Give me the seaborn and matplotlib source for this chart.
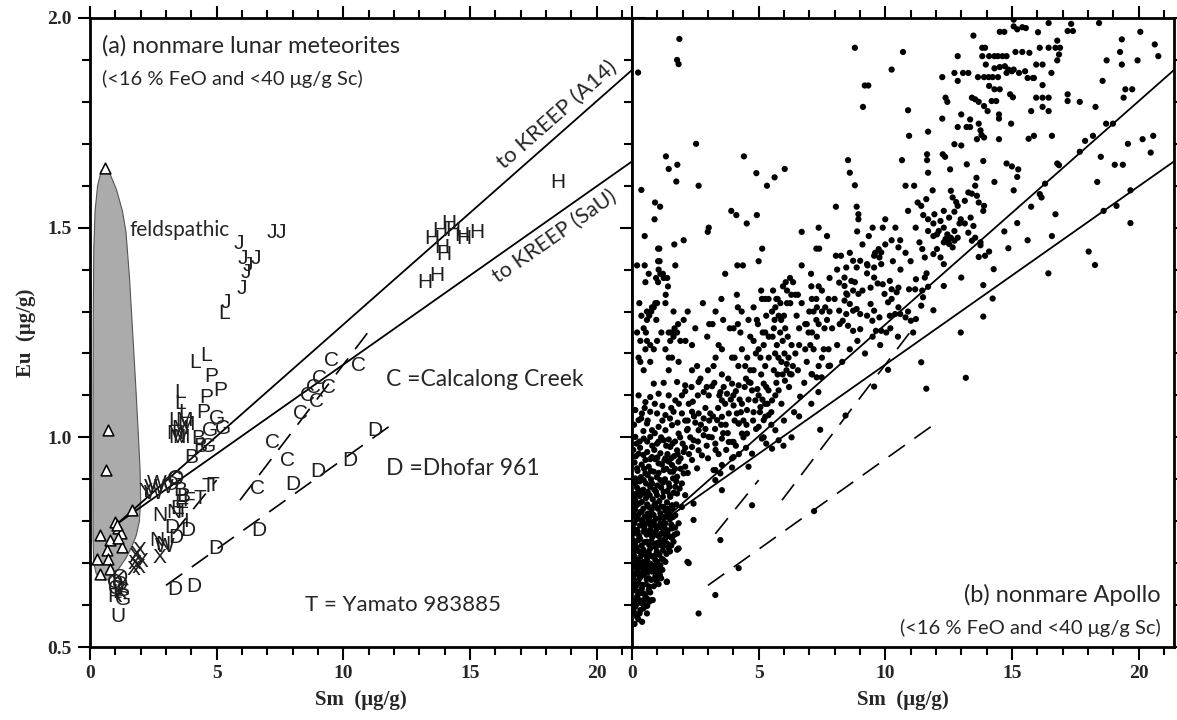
import numpy as np
import pandas as pd
import matplotlib
matplotlib.use("Agg")
import matplotlib.pyplot as plt
import seaborn as sns
from matplotlib.patches import Polygon

sns.set_style("ticks")
plt.rcParams["font.family"] = ["Lato", "DejaVu Sans"]

# ---------------- panel (a): lunar meteorites ----------------
# feldspathic meteorites (open triangles)
feld_sm = [0.59, 0.72, 0.63, 1.65, 0.39, 0.79, 0.99, 1.12, 1.22, 1.25, 0.66,
           0.26, 0.72, 0.39, 0.79, 1.12, 1.05]
feld_eu = [1.643, 1.018, 0.921, 0.826, 0.767, 0.755, 0.798, 0.783, 0.771, 0.739,
           0.731, 0.709, 0.711, 0.675, 0.685, 0.760, 0.790]

# outline of the feldspathic field
field_sm = [0.59, 0.78, 1.05, 1.28, 1.42, 1.56, 1.68, 1.80, 1.90, 1.98, 2.00, 1.95,
            1.82, 1.62, 1.42, 1.15, 0.92, 0.72, 0.55, 0.38, 0.24, 0.15, 0.12, 0.12,
            0.12, 0.13, 0.15, 0.20, 0.30, 0.44]
field_eu = [1.644, 1.630, 1.590, 1.540, 1.490, 1.380, 1.255, 1.130, 1.017, 0.920,
            0.850, 0.800, 0.765, 0.735, 0.712, 0.688, 0.670, 0.660, 0.660, 0.664,
            0.676, 0.700, 0.760, 0.900, 1.100, 1.300, 1.450, 1.540, 1.600, 1.635]

# other meteorites, plotted with their letter codes
met_code = list("JJJJJJJJJL") + list("LLLLLL") + list("PPPP") + list("GGGGG") + \
    list("MMMMMM") + list("BBBBB") + list("WWWW") + list("EEFTTTTI") + \
    list("NNNN") + list("XXXXXXXX") + list("DDDDDDDDDDD") + list("CCCCCCCCCCC") + \
    list("URG") + list("KOQSKOQ") + list("HHHHHHHHHHHH") + list("OOVY")
met_sm = [5.88, 6.04, 6.24, 6.55, 6.16, 6.00, 5.37, 7.20, 7.55, 5.29,
          4.15, 4.60, 3.55, 3.55, 3.30, 3.70,
          4.80, 4.60, 5.13, 4.47,
          5.00, 5.26, 4.74, 4.67, 3.35,
          3.35, 3.55, 3.70, 3.45, 3.80, 3.60,
          4.28, 4.34, 4.01, 3.55, 3.70,
          2.63, 2.50, 2.96, 2.90,
          3.60, 3.45, 3.88, 4.34, 4.67, 4.87, 3.62, 3.80,
          2.76, 2.63, 2.89, 3.30,
          2.76, 1.97, 1.75, 1.85, 1.90, 1.70, 2.05, 1.80,
          3.88, 3.22, 3.36, 4.08, 4.97, 6.67, 8.01, 9.00, 10.26, 11.25, 3.40,
          6.63, 7.19, 7.78, 8.33, 8.57, 8.82, 9.08, 9.41, 9.54, 10.59, 8.95,
          1.12, 0.99, 1.31,
          1.10, 1.20, 1.05, 1.25, 1.15, 1.20, 1.00,
          18.49, 13.49, 13.82, 14.15, 14.34, 14.67, 15.26, 13.88, 13.95, 13.23,
          13.69, 14.74,
          3.42, 3.22, 2.40, 2.20]
met_eu = [1.462, 1.426, 1.410, 1.426, 1.393, 1.355, 1.321, 1.489, 1.489, 1.295,
          1.179, 1.195, 1.108, 1.080, 1.040, 1.060,
          1.144, 1.096, 1.112, 1.060,
          1.044, 1.021, 1.017, 0.977, 0.900,
          1.010, 1.020, 1.040, 1.000, 1.030, 1.000,
          0.997, 0.977, 0.953, 0.874, 0.860,
          0.890, 0.866, 0.739, 0.880,
          0.845, 0.830, 0.850, 0.854, 0.882, 0.886, 0.822, 0.800,
          0.814, 0.755, 0.745, 0.820,
          0.714, 0.731, 0.700, 0.720, 0.690, 0.685, 0.705, 0.715,
          0.779, 0.786, 0.636, 0.644, 0.736, 0.779, 0.888, 0.919, 0.945, 1.017, 0.760,
          0.879, 0.988, 0.945, 1.057, 1.100, 1.120, 1.140, 1.120, 1.183, 1.171, 1.085,
          0.572, 0.620, 0.613,
          0.660, 0.650, 0.640, 0.635, 0.630, 0.665, 0.655,
          1.608, 1.473, 1.493, 1.509, 1.493, 1.481, 1.489, 1.453, 1.437, 1.370,
          1.386, 1.473,
          0.902, 0.887, 0.880, 0.870]

# ---------------- mixing lines (shared by both panels) ----------------
kreep_a14_sm, kreep_a14_eu = [1.1, 21.4], [0.795, 1.876]
kreep_sau_sm, kreep_sau_eu = [1.1, 21.4], [0.795, 1.658]
calc_sm, calc_eu = [5.92, 10.97], [0.850, 1.250]
dhof_sm, dhof_eu = [3.00, 12.00], [0.647, 1.034]
short_sm, short_eu = [3.29, 5.00], [0.770, 0.898]

# ---------------- panel (b): Apollo nonmare samples ----------------
apollo_upper_left = [
    (1.87, 1.95), (1.78, 1.90), (1.84, 1.89), (0.24, 1.87), (2.53, 1.70), (1.34, 1.67),
    (4.42, 1.67), (1.79, 1.65), (6.03, 1.64), (1.45, 1.64), (4.91, 1.63), (5.63, 1.62),
    (1.75, 1.61), (2.63, 1.60), (5.33, 1.60), (0.37, 1.59), (0.91, 1.56), (1.11, 1.55),
    (0.89, 1.52), (3.92, 1.54), (4.12, 1.53), (4.93, 1.53), (4.53, 1.51), (7.37, 1.50),
    (6.70, 1.49), (3.03, 1.50), (2.99, 1.49), (0.50, 1.48), (7.70, 1.48), (2.04, 1.47),
    (1.03, 1.45), (1.08, 1.45), (1.67, 1.46), (5.14, 1.45), (7.28, 1.45), (7.39, 1.45),
    (1.03, 1.42), (1.09, 1.42), (5.00, 1.42), (0.20, 1.41), (0.50, 1.41), (1.71, 1.41),
    (4.16, 1.41), (4.38, 1.41), (6.70, 1.41), (1.05, 1.40), (3.68, 1.39), (7.07, 1.39),
    (0.66, 1.39), (0.95, 1.38), (1.12, 1.39), (1.22, 1.39), (1.39, 1.38), (0.53, 1.37),
    (1.03, 1.37), (1.25, 1.38), (1.42, 1.36), (1.33, 1.34), (4.14, 1.34), (3.53, 1.33),
    (5.13, 1.33), (5.26, 1.33), (5.39, 1.33), (6.07, 1.37), (6.24, 1.38), (6.36, 1.37),
    (5.57, 1.35), (5.96, 1.36), (6.12, 1.35), (6.29, 1.34), (6.45, 1.34), (6.55, 1.34),
    (7.08, 1.36), (7.37, 1.36), (5.70, 1.33), (5.75, 1.33), (7.28, 1.33), (7.76, 1.33),
    (0.29, 1.32), (0.79, 1.31), (0.86, 1.31), (0.99, 1.32), (1.32, 1.32), (0.59, 1.30),
    (0.76, 1.30), (0.37, 1.29), (0.68, 1.29), (0.92, 1.32), (1.64, 1.30), (2.04, 1.28),
    (0.59, 1.28), (0.96, 1.28), (1.68, 1.26), (1.82, 1.27), (3.05, 1.27), (3.18, 1.27),
    (2.97, 1.24), (3.86, 1.26), (4.01, 1.26), (4.18, 1.27), (4.28, 1.25), (4.18, 1.31),
    (4.33, 1.30), (4.93, 1.28), (4.97, 1.27), (5.16, 1.25), (5.26, 1.25), (4.67, 1.24),
    (5.53, 1.30), (5.66, 1.31), (5.79, 1.29), (5.63, 1.28), (5.86, 1.32), (5.89, 1.28),
    (6.00, 1.29), (6.12, 1.32), (6.25, 1.32), (5.55, 1.24), (5.60, 1.26), (5.72, 1.22),
    (5.85, 1.25), (5.95, 1.23), (6.05, 1.26), (6.15, 1.24), (6.30, 1.22), (5.65, 1.20),
    (5.78, 1.19), (5.90, 1.18), (6.02, 1.20), (6.18, 1.19), (6.35, 1.17), (6.45, 1.20),
    (5.60, 1.16), (5.75, 1.15), (5.95, 1.15), (6.10, 1.16), (6.30, 1.15), (6.55, 1.16),
    (6.84, 1.27), (6.97, 1.25), (7.11, 1.25), (7.17, 1.30), (7.28, 1.28), (7.37, 1.27),
    (7.50, 1.30), (7.63, 1.31), (7.70, 1.28), (0.20, 1.25), (0.46, 1.26), (0.55, 1.25),
    (0.33, 1.23), (0.59, 1.23), (0.72, 1.22), (0.99, 1.23), (1.16, 1.25), (1.45, 1.25),
    (1.55, 1.25), (1.64, 1.24), (1.78, 1.25), (1.91, 1.23), (2.11, 1.23), (2.37, 1.22),
    (1.51, 1.23), (1.32, 1.21), (0.86, 1.21), (0.53, 1.21), (0.26, 1.19), (0.33, 1.18),
    (0.72, 1.18), (1.45, 1.19), (1.58, 1.19), (1.84, 1.18), (0.46, 1.16), (1.45, 1.16),
    (2.37, 1.16), (2.57, 1.17), (3.42, 1.22), (3.55, 1.21), (3.95, 1.19), (4.05, 1.19),
    (4.34, 1.21), (4.47, 1.17), (4.67, 1.16), (3.22, 1.17), (3.55, 1.15), (4.89, 1.20),
    (5.07, 1.19), (5.26, 1.17), (6.84, 1.21), (7.04, 1.22), (7.17, 1.21), (7.57, 1.21),
    (7.76, 1.21), (7.37, 1.17), (7.76, 1.17), (7.11, 1.15),
]

apollo_upper_right = [
    (8.80, 1.929), (10.70, 1.919), (10.25, 1.877), (9.19, 1.839), (9.33, 1.839),
    (9.12, 1.788), (10.90, 1.780), (13.48, 1.958), (14.52, 1.967), (14.70, 1.967),
    (15.07, 1.996), (15.07, 1.980), (15.21, 1.973), (15.41, 1.978), (15.55, 1.976),
    (16.45, 1.988), (17.34, 1.986), (17.20, 1.969), (17.41, 1.969), (18.44, 1.988),
    (20.07, 1.967), (19.34, 1.949), (20.64, 1.937), (20.78, 1.909), (19.27, 1.919),
    (19.34, 1.889), (18.74, 1.899), (19.96, 1.899), (18.58, 1.850), (19.48, 1.830),
    (19.75, 1.830), (19.41, 1.810), (17.68, 1.800), (18.30, 1.788), (17.20, 1.818),
    (18.99, 1.748), (18.72, 1.748), (18.20, 1.719), (17.89, 1.707), (17.68, 1.681),
    (20.58, 1.719), (20.16, 1.711), (19.58, 1.700), (20.48, 1.679), (18.51, 1.669),
    (19.06, 1.650), (19.38, 1.650), (18.37, 1.609), (19.68, 1.589), (19.13, 1.552),
    (18.62, 1.540), (19.68, 1.511), (18.03, 1.443), (18.28, 1.411), (16.44, 1.391),
    (16.58, 1.480), (16.72, 1.532), (16.79, 1.653), (16.86, 1.649), (16.10, 1.580),
    (16.17, 1.572), (15.76, 1.550), (16.31, 1.605), (15.21, 1.511), (15.62, 1.470),
    (14.86, 1.451), (14.28, 1.401), (14.24, 1.331), (13.87, 1.288), (13.87, 1.363),
    (13.76, 1.458), (14.10, 1.443), (13.94, 1.433), (13.69, 1.430), (14.70, 1.491),
    (15.21, 1.621), (15.07, 1.589), (14.79, 1.653), (15.00, 1.646), (15.25, 1.639),
    (14.31, 1.609), (13.87, 1.659), (15.66, 1.712), (15.87, 1.719), (16.58, 1.719),
    (14.97, 1.748), (14.49, 1.760), (14.49, 1.770), (15.76, 1.778), (16.21, 1.788),
    (16.45, 1.778), (15.96, 1.810), (16.21, 1.810), (16.45, 1.810), (14.04, 1.778),
    (13.69, 1.800), (13.90, 1.790), (14.20, 1.802), (14.38, 1.802), (13.42, 1.810),
    (13.55, 1.806), (12.38, 1.810), (12.45, 1.800), (12.25, 1.760), (10.94, 1.719),
    (11.69, 1.729), (12.86, 1.740), (13.21, 1.740), (13.35, 1.740), (13.00, 1.770),
    (13.35, 1.758), (13.69, 1.748), (13.76, 1.732), (13.80, 1.721), (13.90, 1.715),
    (13.62, 1.711), (12.73, 1.699), (13.00, 1.696), (14.49, 1.711), (12.25, 1.859),
    (12.73, 1.869), (12.86, 1.850), (13.07, 1.869), (13.28, 1.869), (12.86, 1.909),
    (13.66, 1.859), (13.90, 1.859), (14.08, 1.859), (14.24, 1.859), (14.45, 1.859),
    (13.83, 1.929), (13.94, 1.929), (13.83, 1.909), (14.10, 1.909), (14.31, 1.909),
    (14.45, 1.909), (14.63, 1.909), (14.79, 1.909), (13.97, 1.889), (14.31, 1.880),
    (14.52, 1.883), (14.72, 1.885), (14.86, 1.877), (15.07, 1.877), (14.10, 1.838),
    (14.31, 1.830), (14.52, 1.830), (14.79, 1.869), (15.00, 1.873), (15.28, 1.869),
    (15.52, 1.873), (15.83, 1.857), (15.14, 1.919), (15.41, 1.919), (15.69, 1.917),
    (16.10, 1.929), (16.45, 1.929), (16.72, 1.929), (16.90, 1.929), (16.79, 1.946),
    (16.86, 1.913), (16.79, 1.899), (16.03, 1.966), (16.21, 1.889), (15.96, 1.889),
    (16.56, 1.869), (16.21, 1.840), (15.87, 1.857), (15.62, 1.857), (15.04, 1.811),
    (14.93, 1.818), (17.20, 1.802),
]

apollo_middle = [
    (8.53, 1.661), (8.60, 1.631), (8.80, 1.601), (8.05, 1.550), (8.87, 1.550),
    (8.94, 1.532), (8.94, 1.520), (8.89, 1.491), (10.66, 1.661), (10.80, 1.600),
    (11.14, 1.600), (11.65, 1.675), (11.65, 1.661), (11.69, 1.631), (11.87, 1.589),
    (11.28, 1.560), (11.42, 1.552), (11.62, 1.568), (12.27, 1.675), (12.36, 1.669),
    (12.56, 1.639), (12.59, 1.588), (12.66, 1.572), (12.80, 1.561), (12.86, 1.552),
    (12.73, 1.538), (12.98, 1.520), (11.94, 1.532), (12.31, 1.540), (12.52, 1.524),
    (12.93, 1.510), (13.14, 1.510), (13.14, 1.564), (13.28, 1.584), (13.42, 1.581),
    (13.62, 1.576), (13.22, 1.651), (13.60, 1.619), (13.55, 1.600), (13.69, 1.560),
    (13.90, 1.552), (13.87, 1.540), (13.37, 1.524), (13.48, 1.504), (13.28, 1.488),
    (13.42, 1.469), (13.55, 1.476), (13.76, 1.465), (12.45, 1.484), (12.73, 1.492),
    (12.59, 1.476), (12.38, 1.473), (12.73, 1.469), (12.52, 1.461), (12.86, 1.476),
    (12.66, 1.453), (12.48, 1.467), (11.69, 1.520), (11.90, 1.510), (12.18, 1.516),
    (12.11, 1.492), (12.31, 1.500), (11.69, 1.492), (11.90, 1.480), (12.04, 1.484),
    (12.31, 1.465), (11.35, 1.465), (11.46, 1.449), (11.56, 1.429), (11.90, 1.437),
    (12.04, 1.449), (12.18, 1.429), (12.31, 1.413), (11.63, 1.391), (11.56, 1.381),
    (11.69, 1.359), (11.21, 1.377), (11.46, 1.350), (11.49, 1.334), (11.42, 1.314),
    (10.94, 1.353), (11.18, 1.353), (11.21, 1.282), (11.90, 1.303), (12.31, 1.361),
    (13.00, 1.381), (12.98, 1.250), (9.90, 1.500), (10.25, 1.470), (10.59, 1.470),
    (10.52, 1.453), (9.84, 1.441), (9.56, 1.433), (9.77, 1.429), (9.35, 1.480),
    (9.74, 1.449), (9.01, 1.421), (9.28, 1.413), (9.56, 1.405), (9.84, 1.413),
    (8.73, 1.421), (8.46, 1.405), (8.39, 1.381), (8.66, 1.373), (8.87, 1.405),
    (8.18, 1.369), (8.39, 1.361), (8.73, 1.350), (8.94, 1.342), (8.05, 1.433),
    (8.25, 1.433), (8.46, 1.343), (8.39, 1.326), (9.28, 1.391), (9.56, 1.381),
    (9.70, 1.367), (9.42, 1.357), (9.90, 1.365), (10.18, 1.373), (10.25, 1.353),
    (10.52, 1.357), (9.97, 1.342), (10.11, 1.322), (10.25, 1.330), (10.45, 1.346),
    (10.52, 1.310), (10.39, 1.294), (10.59, 1.294), (10.18, 1.290), (9.42, 1.318),
    (9.56, 1.302), (9.77, 1.286), (8.87, 1.306), (9.01, 1.294), (9.28, 1.290),
    (9.49, 1.278), (8.60, 1.318), (8.73, 1.302), (8.46, 1.294), (8.18, 1.302),
    (8.32, 1.278), (8.53, 1.266), (8.73, 1.254), (9.01, 1.258), (9.63, 1.254),
    (9.84, 1.254), (10.04, 1.250), (10.80, 1.286), (11.01, 1.278),
    (6.11, 1.175), (6.24, 1.151), (6.04, 1.135), (7.09, 1.151), (7.82, 1.171),
    (7.49, 1.143),
]

# the Sm-Eu band between the ferroan samples and the KREEP-rich breccias
apollo_band = [
    (2.90, 1.020), (3.20, 1.050), (3.40, 1.070), (3.70, 1.030), (3.90, 1.090),
    (4.10, 1.110), (4.40, 1.040), (4.60, 1.090), (4.80, 1.060), (5.00, 1.100),
    (5.30, 1.120), (5.50, 1.060), (5.70, 1.130), (5.90, 1.080), (6.20, 1.120),
    (6.40, 1.060), (6.80, 1.130), (3.00, 0.950), (3.30, 0.970), (3.60, 1.010),
    (4.10, 0.980), (4.40, 1.000), (4.60, 0.930), (4.90, 1.020), (5.20, 1.000),
    (5.50, 1.030), (6.00, 1.040), (6.30, 1.000), (6.60, 1.050), (2.70, 1.140),
    (3.00, 1.160), (3.30, 1.190), (3.80, 1.140), (4.20, 1.170), (4.50, 1.140),
    (4.80, 1.160), (5.10, 1.150), (5.40, 1.190), (6.60, 1.220), (6.90, 1.180),
    (7.30, 1.240), (7.50, 1.190), (7.90, 1.260), (8.10, 1.220), (8.30, 1.180),
    (8.60, 1.210), (8.90, 1.230), (9.20, 1.200), (9.50, 1.240), (9.80, 1.220),
    (10.20, 1.260), (10.50, 1.240), (10.90, 1.300), (11.10, 1.250), (4.60, 1.280),
    (4.80, 1.310), (5.10, 1.350), (5.30, 1.290), (6.50, 1.290), (6.70, 1.320),
    (7.00, 1.300), (7.50, 1.350), (7.80, 1.380), (8.10, 1.400), (8.60, 1.440),
    (9.10, 1.460), (9.50, 1.500), (10.00, 1.520), (10.40, 1.500), (10.90, 1.540),
    (11.20, 1.500), (11.50, 1.530), (3.30, 1.300), (3.60, 1.280), (2.80, 1.320),
    (2.20, 1.300), (2.50, 1.260),
    (2.10, 1.110), (2.35, 1.120), (2.60, 1.100), (2.95, 1.120), (3.25, 1.130),
    (3.45, 1.100), (3.62, 1.120), (4.00, 1.100), (4.25, 1.090), (4.45, 1.120),
    (4.68, 1.130), (4.95, 1.115), (5.15, 1.090), (2.20, 1.040), (2.45, 1.050),
    (2.72, 1.030), (3.05, 1.040), (3.28, 1.020), (3.52, 1.030), (3.78, 1.010),
    (4.05, 1.040), (4.30, 1.060), (4.52, 1.030), (4.78, 1.040), (5.05, 1.060),
    (5.35, 1.080), (2.60, 0.990), (2.95, 0.980), (3.15, 1.000), (3.42, 0.960),
    (3.72, 0.970), (4.22, 0.960), (4.50, 0.975), (5.30, 0.985), (5.20, 1.220),
    (5.40, 1.240), (5.00, 1.210), (4.80, 1.230), (4.55, 1.190), (6.60, 1.260),
    (6.90, 1.270), (7.10, 1.330), (7.30, 1.310), (7.60, 1.260), (7.80, 1.300),
    (8.00, 1.330), (8.20, 1.270), (8.50, 1.340), (8.80, 1.370), (9.10, 1.350),
    (9.30, 1.410), (9.60, 1.440), (10.00, 1.460), (10.30, 1.420), (10.60, 1.400),
    (10.80, 1.440), (11.00, 1.420),
]

apollo_lower_left = [
    (0.86, 1.128), (1.25, 1.130), (1.78, 1.132), (2.10, 1.124), (2.63, 1.132),
    (3.16, 1.122), (3.49, 1.108), (3.75, 1.104), (3.95, 1.128), (4.21, 1.124),
    (4.61, 1.132), (4.74, 1.112), (5.20, 1.128), (5.39, 1.112), (5.66, 1.100),
    (5.79, 1.112), (0.26, 1.100), (0.53, 1.084), (0.72, 1.096), (1.05, 1.104),
    (1.45, 1.100), (1.71, 1.088), (1.97, 1.100), (2.24, 1.080), (2.83, 1.108),
    (3.03, 1.100), (3.55, 1.088), (3.68, 1.080), (4.01, 1.076), (4.34, 1.080),
    (4.54, 1.065), (4.87, 1.088), (5.07, 1.072), (5.26, 1.080), (5.53, 1.088),
    (0.13, 1.065), (0.39, 1.057), (0.72, 1.061), (0.99, 1.057), (1.32, 1.053),
    (1.64, 1.061), (1.97, 1.057), (2.37, 1.061), (2.63, 1.057), (2.83, 1.045),
    (3.09, 1.057), (3.36, 1.041), (3.55, 1.049), (3.82, 1.057), (4.14, 1.057),
    (4.21, 1.033), (5.00, 1.025), (5.26, 1.049), (0.26, 1.041), (0.59, 1.033),
    (0.79, 1.017), (1.05, 1.025), (1.32, 1.017), (1.58, 1.029), (1.84, 1.009),
    (2.17, 1.017), (2.43, 0.993), (2.63, 1.017), (2.83, 1.005), (3.03, 1.001),
    (3.29, 0.985), (3.55, 0.997), (3.95, 0.989), (2.37, 0.977), (0.13, 1.001),
    (0.46, 0.997), (0.72, 1.001), (0.99, 0.985), (1.25, 0.993), (1.51, 0.977),
    (1.78, 0.969), (2.04, 0.965), (2.63, 0.969), (2.76, 0.957), (0.26, 0.961),
    (0.53, 0.946), (0.79, 0.953), (1.05, 0.938), (1.32, 0.950), (1.58, 0.934),
    (1.84, 0.942), (2.10, 0.930), (2.37, 0.946), (2.57, 0.926), (2.04, 0.914),
    (1.78, 0.906), (1.51, 0.918), (1.25, 0.922), (0.86, 0.918), (0.53, 0.914),
    (0.20, 0.926), (3.29, 0.922), (3.49, 0.914), (3.95, 0.928), (3.29, 0.898),
    (3.55, 0.874), (1.97, 0.890), (1.71, 0.882), (1.45, 0.890), (1.12, 0.898),
    (0.79, 0.890), (0.46, 0.898), (0.13, 0.902), (0.26, 0.874), (0.53, 0.866),
    (0.72, 0.882), (0.99, 0.862), (1.25, 0.870), (1.51, 0.858), (1.78, 0.866),
    (2.10, 0.862), (2.43, 0.842), (1.97, 0.834), (1.58, 0.838), (1.25, 0.834),
    (0.92, 0.842), (0.66, 0.834), (0.39, 0.846), (0.13, 0.850), (0.33, 0.822),
    (0.72, 0.819), (1.12, 0.819), (1.45, 0.822), (1.71, 0.814), (0.13, 0.811),
    (0.39, 0.803), (0.59, 0.795), (0.86, 0.799), (1.05, 0.787), (1.32, 0.795),
    (1.58, 0.783), (1.84, 0.795), (0.20, 0.779), (0.46, 0.775), (0.72, 0.779),
    (0.99, 0.767), (1.25, 0.771), (1.51, 0.763), (1.78, 0.771), (0.26, 0.755),
    (0.59, 0.751), (0.86, 0.747), (1.12, 0.755), (1.38, 0.747), (1.64, 0.751),
    (2.43, 0.803), (0.13, 0.731), (0.39, 0.723), (0.66, 0.727), (0.92, 0.719),
    (0.20, 0.707), (0.46, 0.703), (0.72, 0.699), (0.99, 0.703), (1.25, 0.707),
    (0.26, 0.688), (0.53, 0.684), (0.79, 0.680), (1.05, 0.684), (1.32, 0.703),
    (0.33, 0.668), (0.66, 0.664), (0.92, 0.668), (1.32, 0.743), (1.84, 0.735),
    (2.24, 0.700), (1.38, 0.656), (1.05, 0.650), (0.13, 0.648), (0.39, 0.640),
    (0.66, 0.636), (0.20, 0.620), (0.46, 0.612), (0.79, 0.612), (0.13, 0.596),
    (0.33, 0.588), (0.59, 0.580), (0.20, 0.572), (2.63, 0.580), (3.49, 0.755),
    (3.29, 0.624), (4.21, 0.688), (4.74, 0.838), (3.22, 0.922), (3.55, 0.934),
    (3.95, 0.950), (4.01, 0.953), (4.01, 0.989), (3.82, 0.989), (4.21, 1.033),
    (4.34, 1.009), (4.54, 1.009), (4.74, 0.961), (5.13, 0.997), (5.20, 1.041),
    (5.39, 1.053), (5.66, 1.017), (5.79, 0.993), (5.53, 0.973), (1.78, 0.732),
    (2.19, 0.703), (1.37, 0.655), (0.82, 0.612), (0.68, 0.608), (0.13, 0.580),
]

# the crowded ferroan-anorthosite end (Sm < 2.5 ug/g)
apollo_ferroan = [
    (0.08, 0.860), (0.31, 0.860), (0.55, 0.855), (0.82, 0.852), (1.08, 0.848),
    (1.38, 0.845), (0.18, 0.838), (0.45, 0.830), (0.78, 0.828), (1.02, 0.830),
    (1.32, 0.825), (1.60, 0.830), (0.05, 0.820), (0.25, 0.815), (0.50, 0.810),
    (0.68, 0.808), (0.95, 0.806), (1.20, 0.810), (1.50, 0.805), (0.10, 0.795),
    (0.32, 0.790), (0.48, 0.785), (0.74, 0.790), (0.96, 0.780), (1.18, 0.784),
    (1.42, 0.778), (1.70, 0.785), (0.06, 0.770), (0.28, 0.765), (0.58, 0.768),
    (0.80, 0.762), (1.05, 0.765), (1.30, 0.758), (1.58, 0.760), (0.12, 0.748),
    (0.38, 0.742), (0.66, 0.745), (0.94, 0.738), (1.16, 0.742), (1.45, 0.735),
    (0.05, 0.725), (0.27, 0.728), (0.52, 0.720), (0.80, 0.716), (1.08, 0.720),
    (1.36, 0.722), (0.10, 0.710), (0.35, 0.700), (0.60, 0.712), (0.86, 0.694),
    (1.12, 0.695), (0.06, 0.690), (0.42, 0.688), (0.68, 0.690), (0.96, 0.676),
    (1.20, 0.684), (0.14, 0.674), (0.48, 0.672), (0.76, 0.660), (1.15, 0.664),
    (0.08, 0.660), (0.27, 0.652), (0.55, 0.650), (0.86, 0.645), (0.06, 0.635),
    (0.30, 0.628), (0.52, 0.624), (0.72, 0.630), (0.10, 0.610), (0.35, 0.605),
    (0.60, 0.598), (0.05, 0.590), (0.45, 0.592), (0.25, 0.566), (0.10, 0.555),
    (0.40, 0.560), (0.20, 0.880), (0.45, 0.875), (0.62, 0.870), (0.88, 0.875),
    (1.15, 0.880), (1.40, 0.872), (1.65, 0.868), (0.35, 0.905), (0.62, 0.910),
    (0.98, 0.905), (1.30, 0.900), (1.62, 0.902), (1.88, 0.878), (0.10, 0.940),
    (0.38, 0.935), (0.66, 0.930), (0.92, 0.948), (1.18, 0.935), (1.45, 0.942),
    (1.70, 0.925), (2.20, 0.915), (0.05, 0.970), (0.32, 0.975), (0.60, 0.965),
    (0.88, 0.970), (1.12, 0.962), (1.40, 0.960), (1.66, 0.955), (1.92, 0.950),
    (2.25, 0.960), (0.18, 0.985), (0.45, 1.015), (0.90, 1.010), (1.15, 1.000),
    (1.45, 0.995), (1.70, 0.990), (2.00, 0.985), (2.30, 1.000), (0.08, 1.030),
    (0.36, 1.045), (0.62, 1.040), (1.20, 1.040), (1.50, 1.045), (1.80, 1.035),
    (2.10, 1.040), (2.50, 1.035), (0.50, 1.070), (0.90, 1.080), (1.20, 1.075),
    (1.55, 1.070), (1.85, 1.080), (2.40, 1.085), (2.90, 1.070),
    (0.15, 0.865), (0.40, 0.868), (0.70, 0.862), (0.95, 0.870), (1.22, 0.858),
    (1.50, 0.862), (0.03, 0.845), (0.28, 0.842), (0.60, 0.840), (0.88, 0.838),
    (1.15, 0.835), (1.42, 0.830), (1.75, 0.840), (0.12, 0.828), (0.38, 0.822),
    (0.62, 0.818), (0.85, 0.815), (1.10, 0.808), (1.35, 0.812), (1.62, 0.810),
    (0.20, 0.805), (0.42, 0.798), (0.65, 0.800), (0.90, 0.790), (1.12, 0.795),
    (1.28, 0.785), (1.55, 0.792), (0.03, 0.785), (0.22, 0.775), (0.52, 0.778),
    (0.68, 0.770), (0.90, 0.772), (1.15, 0.770), (1.40, 0.768), (1.68, 0.768),
    (0.04, 0.755), (0.32, 0.758), (0.50, 0.750), (0.75, 0.752), (1.00, 0.748),
    (1.25, 0.750), (1.55, 0.742), (0.18, 0.738), (0.45, 0.732), (0.72, 0.735),
    (0.98, 0.728), (1.22, 0.730), (1.50, 0.728), (0.08, 0.718), (0.33, 0.715),
    (0.58, 0.705), (0.72, 0.718), (0.92, 0.708), (1.18, 0.710), (0.15, 0.696),
    (0.30, 0.690), (0.55, 0.692), (0.80, 0.690), (1.05, 0.692), (0.20, 0.680),
    (0.40, 0.676), (0.62, 0.678), (0.88, 0.682), (1.10, 0.672), (0.05, 0.668),
    (0.30, 0.664), (0.58, 0.662), (0.96, 0.658), (0.16, 0.645), (0.42, 0.648),
    (0.68, 0.644), (0.22, 0.632), (0.45, 0.628), (0.60, 0.615), (0.28, 0.612),
    (0.15, 0.600), (0.50, 0.600), (0.30, 0.580), (0.12, 0.890), (0.30, 0.895),
    (0.55, 0.890), (0.75, 0.900), (1.00, 0.885), (1.22, 0.892), (1.48, 0.882),
    (1.75, 0.895), (0.22, 0.920), (0.48, 0.925), (0.75, 0.920), (1.05, 0.915),
    (1.35, 0.925), (1.62, 0.918), (1.92, 0.925), (0.15, 0.955), (0.45, 0.958),
    (0.72, 0.948), (1.00, 0.952), (1.28, 0.945), (1.55, 0.950), (1.80, 0.960),
    (2.10, 0.975), (0.30, 0.990), (0.60, 0.990), (0.80, 0.980), (1.05, 0.990),
    (1.35, 0.980), (1.60, 0.985), (1.90, 1.000), (2.20, 1.020),
]

apollo_lower_right = [
    (11.42, 1.179), (11.62, 1.116), (13.18, 1.142), (10.11, 1.161), (9.56, 1.121),
    (8.43, 1.052), (7.43, 1.018), (7.08, 1.080), (7.36, 1.108), (7.29, 1.143),
    (6.64, 1.097), (7.19, 0.824), (5.98, 0.980),
]

apollo_pts = (apollo_upper_left + apollo_upper_right + apollo_middle + apollo_band
              + apollo_lower_left + apollo_ferroan + apollo_lower_right)
apollo = pd.DataFrame(apollo_pts, columns=["Sm", "Eu"])

# ---------------- figure ----------------
W, H = 1177, 720
fig = plt.figure(figsize=(W / 100, H / 100), dpi=100)
ax_a = fig.add_axes([90 / W, 73 / H, 542 / W, 629 / H])
ax_b = fig.add_axes([632 / W, 73 / H, 542 / W, 629 / H])

tick_font = dict(family="Liberation Serif", weight="bold", size=14)
label_font = dict(family="Liberation Serif", weight="bold", size=15)
letter_font = dict(family="Liberation Sans", size=15, color="#1e1e1e")


def draw_lines(ax):
    for xs, ys in [(kreep_a14_sm, kreep_a14_eu), (kreep_sau_sm, kreep_sau_eu)]:
        sns.lineplot(x=xs, y=ys, ax=ax, color="black", lw=1.3, zorder=3)
    for xs, ys in [(calc_sm, calc_eu), (dhof_sm, dhof_eu), (short_sm, short_eu)]:
        sns.lineplot(x=xs, y=ys, ax=ax, color="black", lw=1.2,
                     linestyle=(0, (12, 7)), zorder=3)


def style_axes(ax, show_y):
    ax.set_xlim(0, 21.4)
    ax.set_ylim(0.5, 2.0)
    ax.set_xticks([0, 5, 10, 15, 20])
    ax.set_xticks(np.arange(0, 22, 1), minor=True)
    ax.set_yticks([0.5, 1.0, 1.5, 2.0])
    ax.set_yticks(np.arange(0.5, 2.01, 0.1), minor=True)
    ax.tick_params(which="both", direction="out", top=True, right=True,
                   width=1.5, color="black")
    ax.tick_params(which="major", length=9)
    ax.tick_params(which="minor", length=6)
    ax.set_xticklabels(["0", "5", "10", "15", "20"], fontdict=tick_font)
    if show_y:
        ax.set_yticklabels(["0.5", "1.0", "1.5", "2.0"], fontdict=tick_font)
    else:
        ax.set_yticklabels([])
    ax.tick_params(axis="x", pad=4)
    ax.tick_params(axis="y", pad=4)
    for sp in ax.spines.values():
        sp.set_linewidth(2.0)
        sp.set_color("black")
    ax.set_xlabel("Sm  (\u03bcg/g)", fontdict=label_font, labelpad=6)


# ---- panel (a)
ax_a.add_patch(Polygon(np.column_stack([field_sm, field_eu]), closed=True,
                       facecolor="#ababab", edgecolor="#555555", lw=0.8, zorder=1))
draw_lines(ax_a)
sns.scatterplot(x=feld_sm, y=feld_eu, ax=ax_a, marker="^", s=60,
                facecolor="white", edgecolor="black", linewidth=1.1, zorder=4)
for code, x, y in zip(met_code, met_sm, met_eu):
    ax_a.text(x, y, code, ha="center", va="center", zorder=5, **letter_font)

style_axes(ax_a, True)
ax_a.set_ylabel("Eu  (\u03bcg/g)", fontdict=label_font, labelpad=8)

ax_a.text(0.022, 0.955, "(a) nonmare lunar meteorites", transform=ax_a.transAxes,
          fontsize=17, ha="left", va="center")
ax_a.text(0.022, 0.903, "(<16 % FeO and <40 \u03bcg/g Sc)", transform=ax_a.transAxes,
          fontsize=14.5, ha="left", va="center")
ax_a.text(1.55, 1.495, "feldspathic", fontsize=15, ha="left", va="center")
ax_a.text(18.45, 1.770, "to KREEP (A14)", fontsize=16, ha="center", va="center",
          rotation=41.4, rotation_mode="anchor")
ax_a.text(18.35, 1.480, "to KREEP (SaU)", fontsize=15.5, ha="center", va="center",
          rotation=35.1, rotation_mode="anchor")
ax_a.text(11.7, 1.138, "C =Calcalong Creek", fontsize=16.5, ha="left", va="center")
ax_a.text(11.7, 0.925, "D =Dhofar 961", fontsize=16.5, ha="left", va="center")
ax_a.text(8.5, 0.601, "T = Yamato 983885", fontsize=16, ha="left", va="center")

# ---- panel (b)
draw_lines(ax_b)
sns.scatterplot(data=apollo, x="Sm", y="Eu", ax=ax_b, s=20, color="black",
                edgecolor="none", zorder=4)
style_axes(ax_b, False)
ax_b.set_ylabel("")
ax_b.text(0.975, 0.083, "(b) nonmare Apollo", transform=ax_b.transAxes,
          fontsize=17, ha="right", va="center")
ax_b.text(0.975, 0.031, "(<16 % FeO and <40 \u03bcg/g Sc)", transform=ax_b.transAxes,
          fontsize=14.5, ha="right", va="center")

fig.savefig("out.png", dpi=100)
